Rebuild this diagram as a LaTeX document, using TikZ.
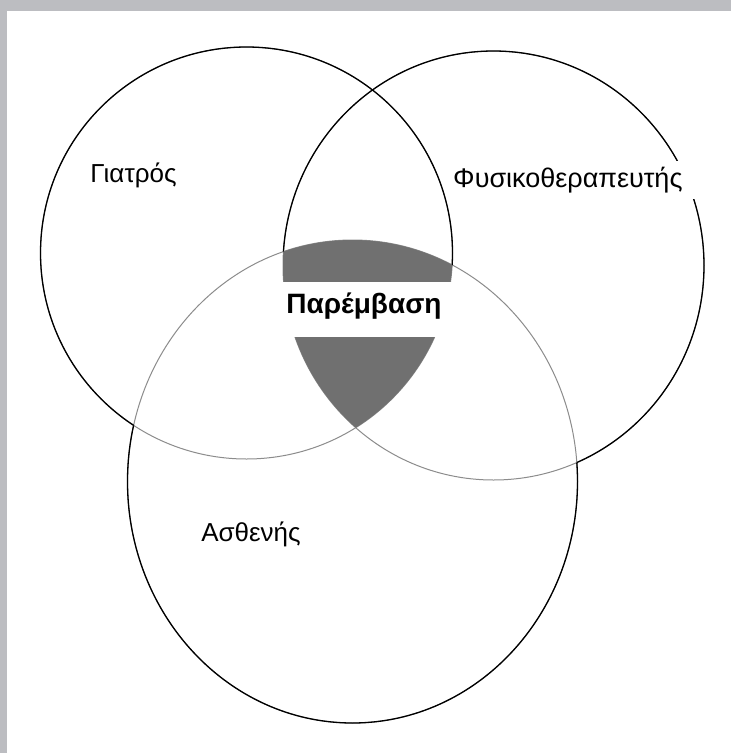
\documentclass[tikz,border=0pt]{standalone}
\usepackage{fontspec}
\setmainfont{Liberation Sans}
\definecolor{framegray}{RGB}{188,189,193}
\definecolor{overlapgray}{RGB}{112,112,112}
% the three sets, in pixel units (y downwards)
\newcommand\docring{(246.5,253) circle[radius=206pt]}
\newcommand\physring{(493.5,265.5) ellipse[x radius=210.5pt, y radius=214.5pt]}
\newcommand\patring{(352.5,481.5) ellipse[x radius=225pt, y radius=241.5pt]}
\newcommand\outerframe{(-20,-20) -- (760,-20) -- (760,780) -- (-20,780) -- cycle}

\begin{document}
\begin{tikzpicture}[x=1pt, y=-1pt,
 ring/.style={draw=black,line width=1.3pt},
 faintring/.style={draw=black!45,line width=1pt},
 lbl/.style={fill=white,inner xsep=10pt,inner ysep=5pt,font=\fontsize{26}{30}\selectfont}]
\useasboundingbox (0,0) rectangle (731,753);
\fill[framegray] (0,0) rectangle (731,753);
\fill[white] (7,10.5) rectangle (731,753);
% outlines: grey where they run inside another set
\path[faintring] \docring;
\path[faintring] \physring;
\path[faintring] \patring;
\begin{scope}
 \clip \outerframe \patring;
 \path[ring] \docring;
 \path[ring] \physring;
\end{scope}
\begin{scope}
 \clip \outerframe \docring;
 \clip \outerframe \physring;
 \path[ring] \patring;
\end{scope}
% common part of all three
\begin{scope}
 \clip \docring;
 \clip \physring;
 \fill[overlapgray] \patring;
\end{scope}
\node[lbl,anchor=base] (doc) at (133.5,182) {Γιατρός};
\node[lbl,anchor=base west,font=\fontsize{27}{30}\selectfont,inner xsep=2pt,inner ysep=6pt,
 text width=243pt,align=left] (phys) at (451,187) {Φυσικοθεραπευτής};
\node[lbl,anchor=base] (pat) at (251,541.7) {Ασθενής};
\node[lbl,anchor=base,font=\fontsize{28}{30}\selectfont\bfseries,
 text height=16pt,text depth=8pt,inner ysep=15.5pt,minimum width=192pt] (act) at (364,313) {Παρέμβαση};
\end{tikzpicture}
\end{document}
